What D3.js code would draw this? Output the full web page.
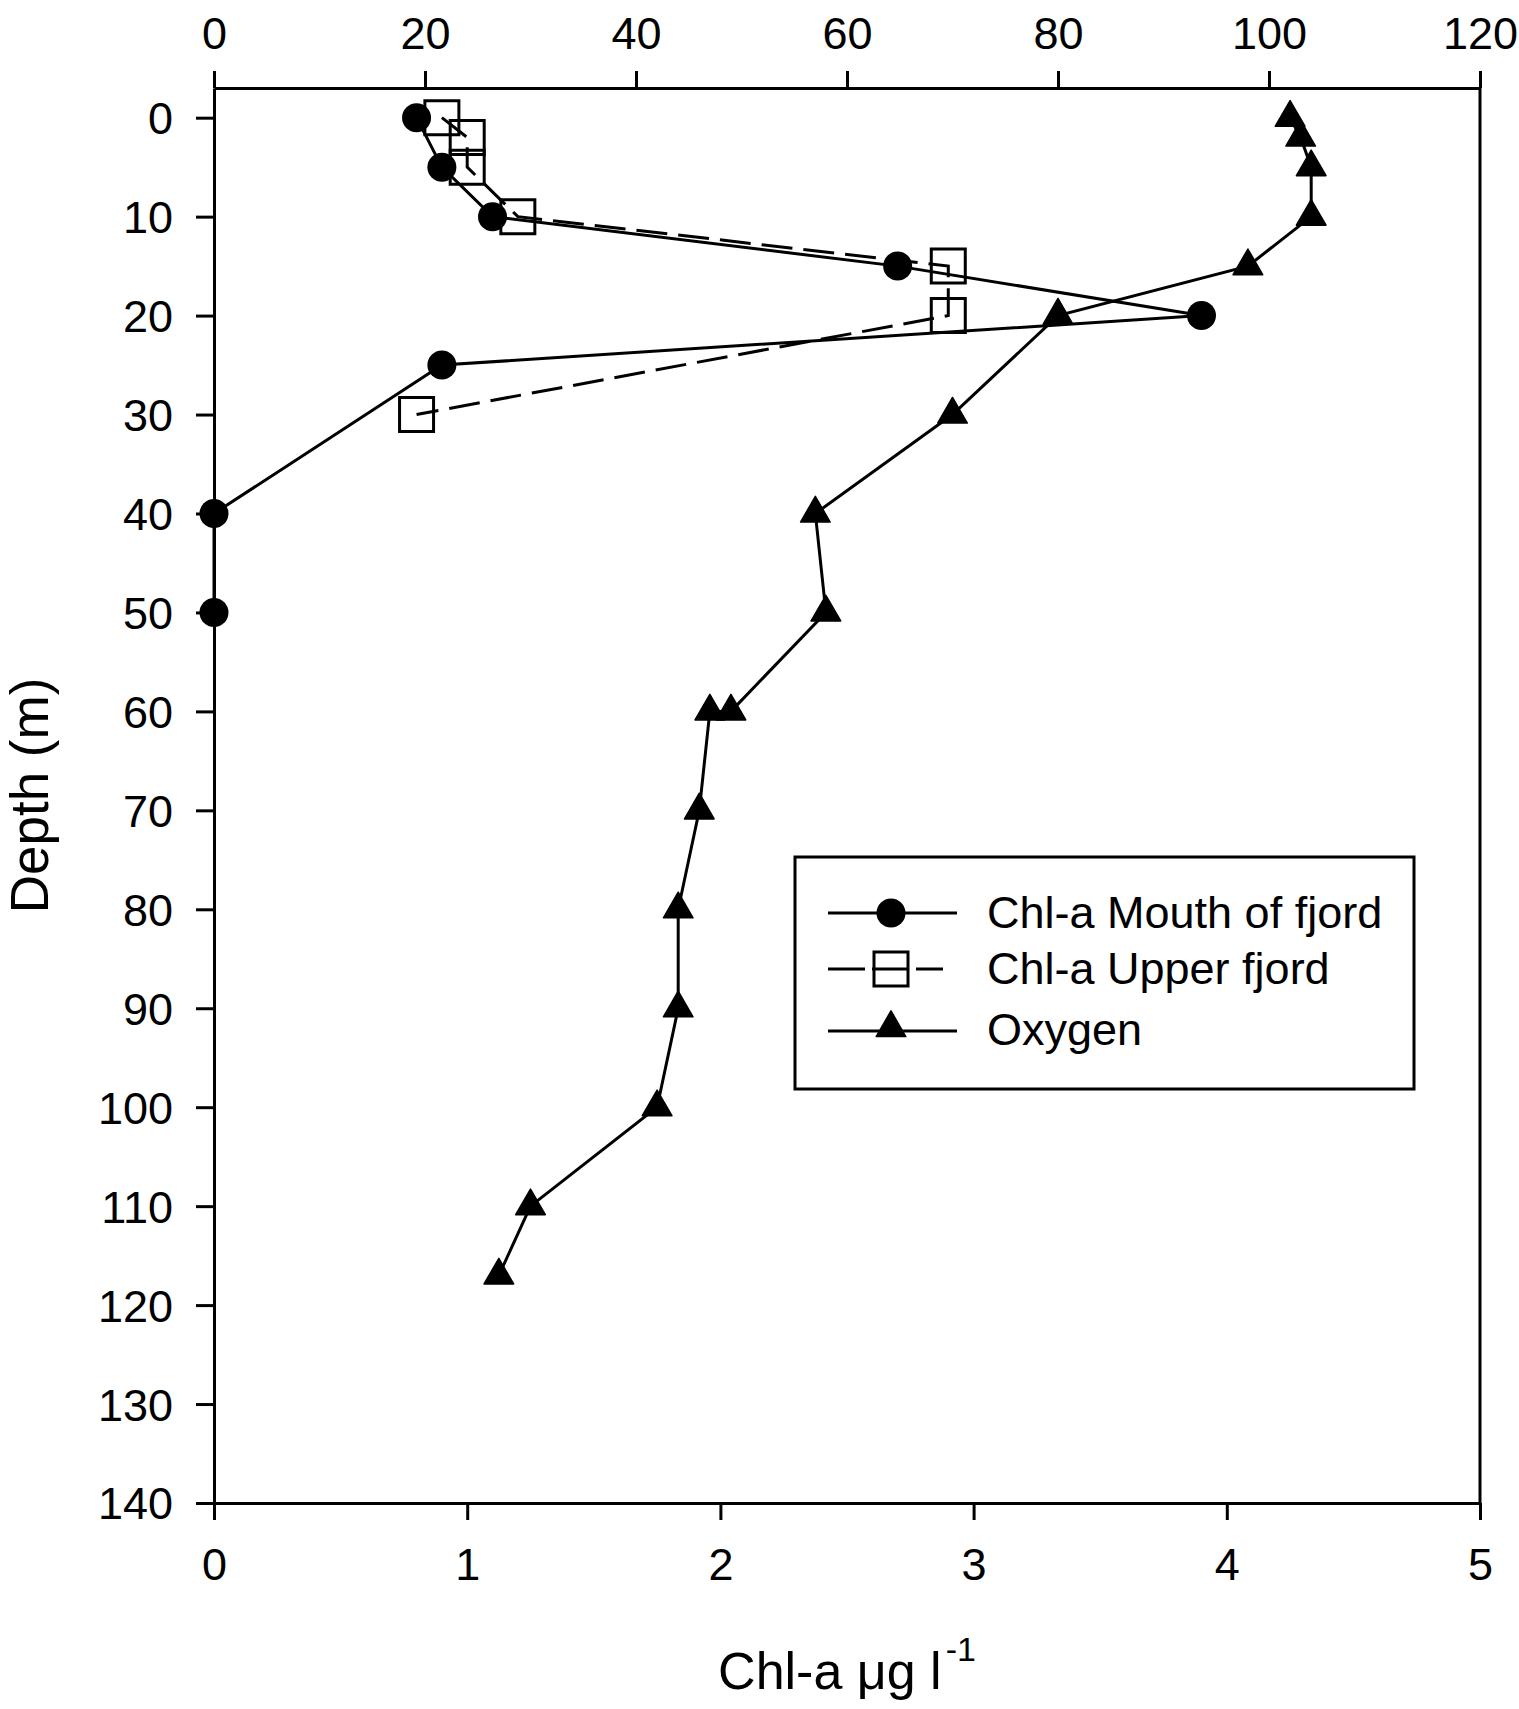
<!DOCTYPE html>
<html>
<head>
<meta charset="utf-8">
<script src="https://cdn.jsdelivr.net/npm/d3@7"></script>
<style>
  html, body { margin: 0; padding: 0; background: #fff; }
  svg { display: block; }
  text { font-family: "Liberation Sans", Arial, sans-serif; fill: #000; }
</style>
</head>
<body>
<svg id="chart" width="1519" height="1709"></svg>
<script>
// ---------------- data ----------------
const depthMouth = [0, 5, 10, 15, 20, 25, 40, 50];
const chlMouth   = [0.8, 0.9, 1.1, 2.7, 3.9, 0.9, 0, 0];

const depthUpper = [0, 2, 5, 10, 15, 20, 30];
const chlUpper   = [0.9, 1.0, 1.0, 1.2, 2.9, 2.9, 0.8];

const depthOxygen = [0, 2, 5, 10, 15, 20, 30, 40, 50, 60, 60, 70, 80, 90, 100, 110, 117];
const oxygen      = [102, 103, 104, 104, 98, 80, 70, 57, 58, 49, 47, 46, 44, 44, 42, 30, 27];

const depthTicks  = [0, 10, 20, 30, 40, 50, 60, 70, 80, 90, 100, 110, 120, 130, 140];
const chlTicks    = [0, 1, 2, 3, 4, 5];
const oxygenTicks = [0, 20, 40, 60, 80, 100, 120];

const legendLabels = ["Chl-a Mouth of fjord", "Chl-a Upper fjord", "Oxygen"];
const yTitle = "Depth (m)";
const xTitleMain = "Chl-a \u03bcg l";
const xTitleSup = "-1";

// ---------------- layout ----------------
const L = 214, R = 1480, T = 88, B = 1503;
const svg = d3.select("#chart");

const x = d3.scaleLinear().domain([0, 5]).range([L, R]);
const xTop = d3.scaleLinear().domain([0, 120]).range([L, R]);
const y = d3.scaleLinear().domain([-3, 140]).range([T, B]);

const AX_W = 3, TICK = 17, FS = 45;

// axes
const gB = svg.append("g").attr("transform", `translate(0,${B})`)
  .call(d3.axisBottom(x).tickValues(chlTicks).tickSizeInner(TICK).tickSizeOuter(0).tickFormat(d3.format("d")));
gB.selectAll("text").attr("y", 77).attr("dy", null).style("font-size", FS + "px");

const gT = svg.append("g").attr("transform", `translate(0,${T})`)
  .call(d3.axisTop(xTop).tickValues(oxygenTicks).tickSizeInner(TICK).tickSizeOuter(0).tickFormat(d3.format("d")));
gT.selectAll("text").attr("y", -39).attr("dy", null).style("font-size", FS + "px");

const gL = svg.append("g").attr("transform", `translate(${L},0)`)
  .call(d3.axisLeft(y).tickValues(depthTicks).tickSizeInner(TICK + 1).tickSizeOuter(0).tickFormat(d3.format("d")));
gL.selectAll("text").attr("x", -41).attr("dy", "0.355em").style("font-size", FS + "px");

svg.append("line").attr("x1", R).attr("x2", R).attr("y1", T).attr("y2", B)
  .attr("stroke", "#000").attr("stroke-width", AX_W);

svg.selectAll(".domain, .tick line").attr("stroke", "#000").attr("stroke-width", AX_W);
svg.selectAll(".tick text").attr("fill", "#000").attr("font-family", "Liberation Sans, Arial, sans-serif");

// ---------------- series ----------------
const LW = 3;
const mouth = depthMouth.map((d, i) => ({ d, v: chlMouth[i] }));
const upper = depthUpper.map((d, i) => ({ d, v: chlUpper[i] }));
const oxy = depthOxygen.map((d, i) => ({ d, v: oxygen[i] }));

const lineChl = d3.line().x(p => x(p.v)).y(p => y(p.d));
const lineOxy = d3.line().x(p => xTop(p.v)).y(p => y(p.d));

svg.append("path").datum(upper).attr("d", lineChl).attr("fill", "none")
  .attr("stroke", "#000").attr("stroke-width", LW).attr("stroke-dasharray", "31,11");
svg.append("path").datum(mouth).attr("d", lineChl).attr("fill", "none")
  .attr("stroke", "#000").attr("stroke-width", LW);
svg.append("path").datum(oxy).attr("d", lineOxy).attr("fill", "none")
  .attr("stroke", "#000").attr("stroke-width", LW);

const symSquare = d3.symbol().type(d3.symbolSquare).size(34 * 34);
const symCircle = d3.symbol().type(d3.symbolCircle).size(Math.PI * 14.5 * 14.5);
const symTri = d3.symbol().type(d3.symbolTriangle).size(380);

svg.append("g").selectAll("path").data(upper).join("path")
  .attr("d", symSquare).attr("transform", p => `translate(${x(p.v)},${y(p.d)})`)
  .attr("fill", "none").attr("stroke", "#000").attr("stroke-width", 3);
svg.append("g").selectAll("path").data(mouth).join("path")
  .attr("d", symCircle).attr("transform", p => `translate(${x(p.v)},${y(p.d)})`)
  .attr("fill", "#000");
svg.append("g").selectAll("path").data(oxy).join("path")
  .attr("d", symTri).attr("transform", p => `translate(${xTop(p.v)},${y(p.d)})`)
  .attr("fill", "#000").attr("stroke", "#000").attr("stroke-width", 1.5).attr("stroke-linejoin", "round");

// ---------------- legend ----------------
const lg = svg.append("g");
lg.append("rect").attr("x", 795).attr("y", 857).attr("width", 619).attr("height", 232)
  .attr("fill", "#fff").attr("stroke", "#000").attr("stroke-width", 3);

const rowsY = [913, 969, 1031];
const baseY = [928, 984, 1045];
// row 1: circle
lg.append("line").attr("x1", 828).attr("x2", 957).attr("y1", rowsY[0]).attr("y2", rowsY[0])
  .attr("stroke", "#000").attr("stroke-width", LW);
lg.append("path").attr("d", symCircle).attr("transform", `translate(891,${rowsY[0]})`).attr("fill", "#000");
// row 2: square dashed
lg.append("line").attr("x1", 828).attr("x2", 943).attr("y1", rowsY[1]).attr("y2", rowsY[1])
  .attr("stroke", "#000").attr("stroke-width", LW).attr("stroke-dasharray", "37,7");
lg.append("path").attr("d", symSquare).attr("transform", `translate(891,${rowsY[1]})`)
  .attr("fill", "none").attr("stroke", "#000").attr("stroke-width", 3);
// row 3: triangle
lg.append("line").attr("x1", 828).attr("x2", 957).attr("y1", rowsY[2]).attr("y2", rowsY[2])
  .attr("stroke", "#000").attr("stroke-width", LW);
lg.append("path").attr("d", symTri).attr("transform", `translate(891,${rowsY[2] - 3})`)
  .attr("fill", "#000").attr("stroke", "#000").attr("stroke-width", 1.5).attr("stroke-linejoin", "round");

lg.selectAll("text.leg").data(legendLabels).join("text").attr("class", "leg")
  .attr("x", 987).attr("y", (d, i) => baseY[i]).style("font-size", "45px").text(d => d);

// ---------------- titles ----------------
svg.append("text").attr("transform", `translate(48,${(T + B) / 2}) rotate(-90)`)
  .attr("text-anchor", "middle").style("font-size", "53px").text(yTitle);

const xt = svg.append("text").attr("x", (L + R) / 2).attr("y", 1689)
  .attr("text-anchor", "middle").style("font-size", "52px");
xt.append("tspan").text(xTitleMain);
xt.append("tspan").attr("dy", -28).attr("dx", 4).style("font-size", "34px").text(xTitleSup);
</script>
</body>
</html>
